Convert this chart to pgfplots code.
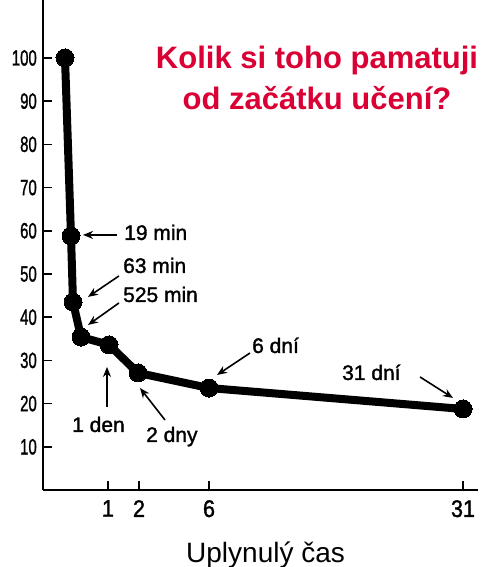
\documentclass[border=0pt]{standalone}
\usepackage{pgfplots}
\pgfplotsset{compat=1.18}
\usetikzlibrary{arrows.meta}
\usepackage{graphicx}
\usepackage{fontspec}
\setmainfont{Liberation Sans}
\newfontfamily\annfont[FakeBold=1.5]{Liberation Sans}
\definecolor{titlered}{RGB}{218,0,52}
\newcommand\ytl[1]{\scalebox{0.68}[1]{\annfont\fontsize{22}{26}\selectfont #1}}
\newcommand\xtl[1]{\scalebox{0.9}[1]{\annfont\fontsize{24}{28}\selectfont #1}}
\begin{document}
\begin{tikzpicture}
\begin{axis}[
  scale only axis,
  width=435pt, height=490pt,
  xmin=43, xmax=478, ymin=0, ymax=113.4,
  axis x line=bottom, axis y line=left,
  axis line style={-, line width=1.6pt},
  tick align=inside,
  major tick length=9pt,
  tick style={line width=1.6pt, black},
  xtick={108,139,209,463},
  xticklabels={\xtl{1},\xtl{2},\xtl{6},\xtl{31}},
  ytick={10,20,30,40,50,60,70,80,90,100},
  yticklabels={\ytl{10},\ytl{20},\ytl{30},\ytl{40},\ytl{50},\ytl{60},\ytl{70},\ytl{80},\ytl{90},\ytl{100}},
  yticklabel style={inner sep=0pt, anchor=east, xshift=-6pt},
  xticklabel style={inner sep=0pt, anchor=north, yshift=-10pt},
  clip=false,
]
\addplot[black, line width=8pt, line join=round, mark=*, mark size=9pt, mark options={fill=black, line width=0pt}]
coordinates {(65,100) (71,58.8) (73,43.5) (81,35.4) (109,33.6) (138,27.1) (209,23.6) (463,18.75)};

\tikzset{ann/.style={anchor=base west, font=\annfont\fontsize{21}{24}\selectfont, inner sep=0pt},
         arr/.style={line width=1.6pt, -{Stealth[length=10pt,width=8pt]}}}
\node[ann] at (axis cs:124,57.87) {19 min};
\node[ann] at (axis cs:123,50.23) {63 min};
\node[ann] at (axis cs:123,43.52) {525 min};
\node[ann] at (axis cs:72,13.43) {1 den};
\node[ann] at (axis cs:146,11.11) {2 dny};
\node[ann] at (axis cs:252,31.71) {6 dní};
\node[ann] at (axis cs:342,25.46) {31 dní};
\draw[arr] (axis cs:117,59.03) -- (axis cs:83,59.03);
\draw[arr] (axis cs:119,49.54) -- (axis cs:88,44.68);
\draw[arr] (axis cs:119,43.29) -- (axis cs:88,38.19);
\draw[arr, line width=1.2pt] (axis cs:107,19.21) -- (axis cs:107,28.47);
\draw[arr] (axis cs:165,16.20) -- (axis cs:140,23.61);
\draw[arr] (axis cs:250,31.71) -- (axis cs:217,26.62);
\draw[arr] (axis cs:420,26.16) -- (axis cs:453,21.30);

\node[anchor=base, font=\bfseries\fontsize{31}{36}\selectfont, text=titlered, inner sep=0pt] at (axis cs:317,97.45) {Kolik si toho pamatuji};
\node[anchor=base, font=\bfseries\fontsize{31}{36}\selectfont, text=titlered, inner sep=0pt] at (axis cs:317,87.96) {od začátku učení?};
\node[anchor=base west, font=\fontsize{28}{32}\selectfont, inner sep=0pt] at (axis cs:186,-16.67) {Uplynulý čas};

\coordinate (bbtl) at (axis cs:0,113.4);
\coordinate (bbbr) at (axis cs:485,-17.82);
\end{axis}
\pgfresetboundingbox
\path (bbtl) rectangle (bbbr);
\end{tikzpicture}
\end{document}
